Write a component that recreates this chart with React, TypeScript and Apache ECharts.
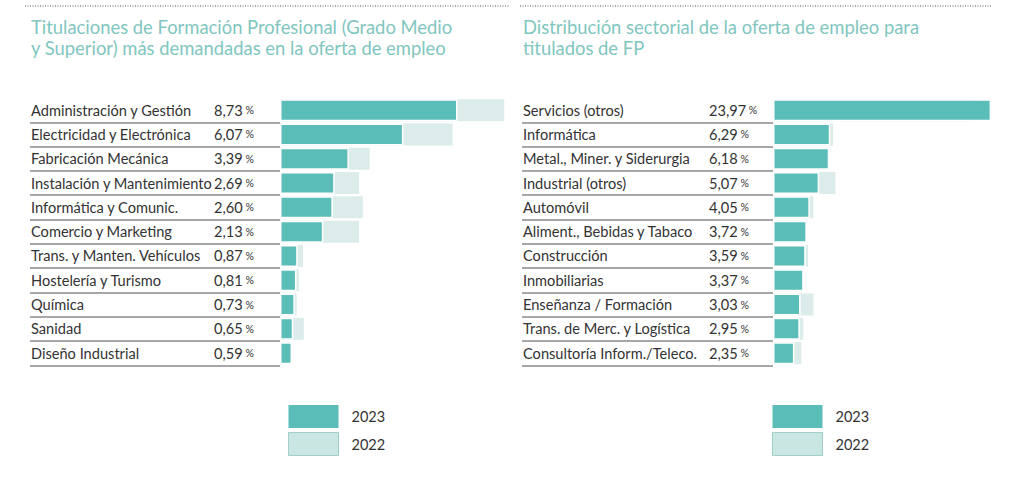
import React, { useEffect, useRef } from "react";
import * as echarts from "echarts";

const leftCategories = [
  "Administración y Gestión",
  "Electricidad y Electrónica",
  "Fabricación Mecánica",
  "Instalación y Mantenimiento",
  "Informática y Comunic.",
  "Comercio y Marketing",
  "Trans. y Manten. Vehículos",
  "Hostelería y Turismo",
  "Química",
  "Sanidad",
  "Diseño Industrial",
];
const left2023 = [8.73, 6.07, 3.39, 2.69, 2.6, 2.13, 0.87, 0.81, 0.73, 0.65, 0.59];
const left2022 = [11.03, 8.49, 4.41, 3.89, 4.07, 3.89, 1.13, 0.93, 0.82, 1.17, 0.5];

const rightCategories = [
  "Servicios (otros)",
  "Informática",
  "Metal., Miner. y Siderurgia",
  "Industrial (otros)",
  "Automóvil",
  "Aliment., Bebidas y Tabaco",
  "Construcción",
  "Inmobiliarias",
  "Enseñanza / Formación",
  "Trans. de Merc. y Logística",
  "Consultoría Inform./Teleco.",
];
const right2023 = [23.97, 6.29, 6.18, 5.07, 4.05, 3.72, 3.59, 3.37, 3.03, 2.95, 2.35];
const right2022 = [22.0, 6.6, 6.0, 6.86, 4.44, 3.5, 3.85, 3.2, 4.44, 3.34, 3.12];

const leftTitle = "Titulaciones de Formación Profesional (Grado Medio\ny Superior) más demandadas en la oferta de empleo";
const rightTitle = "Distribución sectorial de la oferta de empleo para\ntitulados de FP";
const legendNames = ["2023", "2022"];

const C2023 = "#5bbdb7";
const C2022 = "#dcecea";
const FONT = "Lato";

function fmt(v: number) {
  return v.toFixed(2).replace(".", ",");
}

export default function App() {
  const ref = useRef<HTMLDivElement>(null);
  useEffect(() => {
    if (!ref.current) return;
    const chart = echarts.init(ref.current, null, { renderer: "svg" });

    const makeY = (idx: number, cats: string[], vals: number[], margin: number, nameW: number) => ({
      type: "category",
      gridIndex: idx,
      inverse: true,
      data: cats,
      axisLine: { show: false },
      axisTick: {
        show: true,
        length: margin + 1,
        interval: (i: number) => i !== 0,
        lineStyle: { color: "#8a8a8a", width: 1.5 },
      },
      axisLabel: {
        margin,
        align: "left",
        formatter: (value: string) => {
          const i = cats.indexOf(value);
          return `{n|${value}}{v|${fmt(vals[i])}}{p| %}`;
        },
        rich: {
          n: { width: nameW, fontFamily: FONT, fontSize: 14.6, color: "#333" },
          v: { fontFamily: FONT, fontSize: 14.6, color: "#333" },
          p: { fontFamily: FONT, fontSize: 10.5, color: "#333" },
        },
      },
    });

    const makeX = (idx: number, max: number) => ({
      type: "value",
      gridIndex: idx,
      min: 0,
      max,
      show: false,
    });

    const bars = (idx: number, d23: number[], d22: number[]) => [
      {
        name: "2022",
        type: "bar",
        xAxisIndex: idx,
        yAxisIndex: idx,
        data: d22,
        barWidth: 22,
        itemStyle: { color: C2022 },
        silent: true,
      },
      {
        name: "2023",
        type: "bar",
        xAxisIndex: idx,
        yAxisIndex: idx,
        data: d23,
        barWidth: 22,
        barGap: "-100%",
        itemStyle: { color: C2023, borderColor: "#ffffff", borderWidth: 1.5 },
        silent: true,
      },
    ];

    const legend = (left: number) => ({
      left,
      top: 405,
      padding: 0,
      orient: "vertical",
      itemWidth: 50,
      itemHeight: 23,
      itemGap: 4,
      icon: "rect",
      selectedMode: false,
      textStyle: { fontFamily: FONT, fontSize: 14.5, color: "#333", padding: [0, 0, 0, 8] },
      data: [
        { name: legendNames[0], itemStyle: { color: C2023, borderWidth: 0 } },
        { name: legendNames[1], itemStyle: { color: "#c9e6e2", borderColor: "#9fd0ca", borderWidth: 1 } },
      ],
    });

    const titleStyle = { fontFamily: FONT, fontSize: 18.4, lineHeight: 21.5, fontWeight: "normal", color: "#7fc6bf" };

    chart.setOption({
      animation: false,
      backgroundColor: "#ffffff",
      title: [
        { text: leftTitle, left: 31, top: 16, padding: 0, textStyle: titleStyle },
        { text: rightTitle, left: 523, top: 16, padding: 0, textStyle: titleStyle },
      ],
      legend: [legend(288), legend(772)],
      grid: [
        { left: 280, top: 98, width: 244, height: 267.3 },
        { left: 773, top: 98, width: 227.5, height: 267.3 },
      ],
      xAxis: [makeX(0, 12), makeX(1, 25)],
      yAxis: [
        makeY(0, leftCategories, left2023, 249, 183),
        makeY(1, rightCategories, right2023, 250, 186),
      ],
      series: [...bars(0, left2023, left2022), ...bars(1, right2023, right2022)],
      graphic: [
        {
          type: "line",
          shape: { x1: 25, y1: 6, x2: 510, y2: 6 },
          style: { stroke: "#555", lineWidth: 1, lineDash: [1, 1.5] },
        },
        {
          type: "line",
          shape: { x1: 520, y1: 6, x2: 992, y2: 6 },
          style: { stroke: "#555", lineWidth: 1, lineDash: [1, 1.5] },
        },
      ],
    });
    return () => chart.dispose();
  }, []);
  return (
    <div
      ref={ref}
      style={{ position: "fixed", left: 0, top: 0, width: 1024, height: 478, background: "#fff" }}
    />
  );
}
